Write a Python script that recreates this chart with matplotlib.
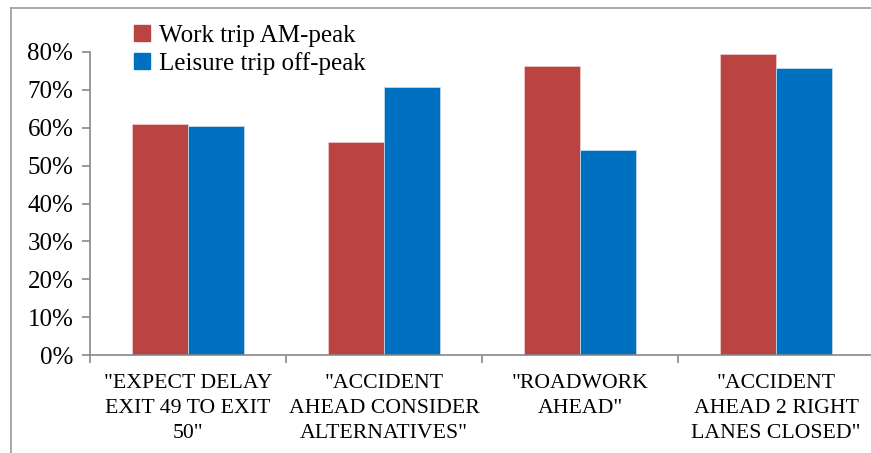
import matplotlib.pyplot as plt
from matplotlib.lines import Line2D
from matplotlib.ticker import PercentFormatter, FixedLocator
import numpy as np

plt.rcParams['font.family'] = 'serif'
plt.rcParams['font.serif'] = ['Liberation Serif', 'DejaVu Serif']

categories = ['"EXPECT DELAY\nEXIT 49 TO EXIT\n50"',
              '"ACCIDENT\nAHEAD CONSIDER\nALTERNATIVES"',
              '"ROADWORK\nAHEAD"',
              '"ACCIDENT\nAHEAD 2 RIGHT\nLANES CLOSED"']
work_am = [61.0, 56.2, 76.2, 79.5]
leisure_off = [60.5, 70.7, 54.1, 75.9]
series_names = ['Work trip AM-peak', 'Leisure trip off-peak']
colors = ['#B94441', '#0070C0']

fig = plt.figure(figsize=(8.71, 4.53), dpi=100)
W, H = 871, 453
ax = fig.add_axes([90 / W, 1 - 355 / H, (874 - 90) / W, (355 - 52) / H])

x = np.arange(len(categories))
bw = 0.2857
ax.bar(x - bw / 2, work_am, bw, color=colors[0], edgecolor='#f0d0d0', linewidth=0.5, label=series_names[0])
ax.bar(x + bw / 2, leisure_off, bw, color=colors[1], edgecolor='#d0e0f0', linewidth=0.5, label=series_names[1])

ax.set_xlim(-0.5, len(categories) - 0.5)
ax.set_ylim(0, 80)
ax.yaxis.set_major_locator(FixedLocator(range(0, 81, 10)))
ax.yaxis.set_major_formatter(PercentFormatter(decimals=0))
ax.set_xticks(x)
ax.set_xticklabels(categories, fontsize=15.7, linespacing=1.4)
ax.tick_params(axis='x', length=0, pad=14)
ax.xaxis.set_minor_locator(FixedLocator(np.arange(-0.5, len(categories), 1.0)))
ax.tick_params(axis='x', which='minor', length=6, color='#888888', width=1.2)
ax.tick_params(axis='y', length=6, color='#888888', width=1.2, labelsize=18, pad=6)

for s in ['top', 'right']:
    ax.spines[s].set_visible(False)
for s in ['left', 'bottom']:
    ax.spines[s].set_color('#888888')
    ax.spines[s].set_linewidth(1.2)

handles = [Line2D([], [], marker='s', linestyle='', markersize=12, color=c) for c in colors]
fig.legend(handles, series_names, loc='upper left', bbox_to_anchor=(118 / W, 1 - 12 / H),
           frameon=False, fontsize=18, handlelength=0.9, handletextpad=0.25,
           labelspacing=0.2, borderpad=0)

# outer border of the chart area
fig.add_artist(Line2D([11 / W, 1.0], [1 - 8 / H, 1 - 8 / H], color='#999999', lw=1.2))
fig.add_artist(Line2D([11 / W, 11 / W], [0.0, 1 - 8 / H], color='#999999', lw=1.2))

fig.savefig('out.png', dpi=100)
